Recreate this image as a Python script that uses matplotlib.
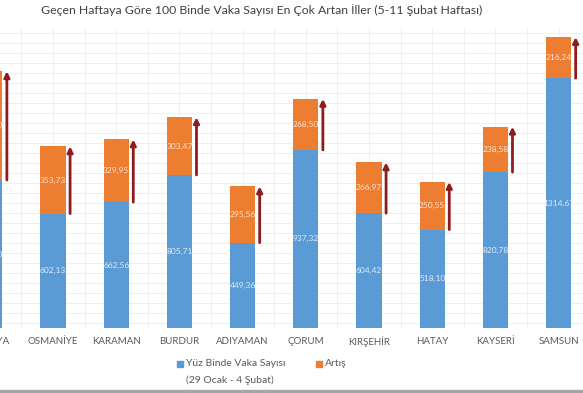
import matplotlib.pyplot as plt
from matplotlib.patches import Rectangle
import matplotlib.transforms as mtransforms
import numpy as np

plt.rcParams['font.family'] = ['Lato', 'DejaVu Sans']

# data
iller = ["AMASYA", "OSMANİYE", "KARAMAN", "BURDUR", "ADIYAMAN",
         "ÇORUM", "KIRŞEHİR", "HATAY", "KAYSERİ", "SAMSUN"]
vaka = [779.0, 602.13, 662.56, 805.71, 449.36, 937.32, 604.42, 518.10, 820.78, 1314.67]
artis = [572.0, 353.73, 329.95, 303.47, 295.56, 268.50, 266.97, 250.55, 238.58, 216.24]

blue = "#5B9BD5"
orange = "#ED7D31"
arrow_c = "#8E1B1F"

W, H = 583, 393
fig = plt.figure(figsize=(W / 100, H / 100), dpi=100)
ax = fig.add_axes([0, 65 / H, 1, 300 / H])

x = np.arange(len(iller))
ax.bar(x, vaka, width=0.4, color=blue, zorder=2)
ax.bar(x, artis, width=0.4, bottom=vaka, color=orange, zorder=2)

def fmt(v):
    return f"{v:.2f}".replace(".", ",")

for i in range(len(iller)):
    top = vaka[i] + artis[i]
    ax.text(i, vaka[i] / 2, fmt(vaka[i]), ha="center", va="center",
            fontsize=6, color="white", alpha=0.8, zorder=3)
    ax.text(i, vaka[i] + artis[i] / 2, fmt(artis[i]), ha="center", va="center",
            fontsize=6, color="white", alpha=0.8, zorder=3)
    ax.annotate("", xy=(i + 0.27, top), xytext=(i + 0.27, vaka[i]),
                arrowprops=dict(arrowstyle="-|>", color=arrow_c, lw=2,
                                mutation_scale=8, shrinkA=0, shrinkB=0),
                zorder=4)

# faint sheet grid behind the chart
ax.set_xticks(np.arange(0, 10, 0.5), minor=True)
ax.set_yticks(np.arange(26.3, 1579, 52.63), minor=True)
ax.grid(True, which="minor", color="#ececec", lw=0.6, zorder=0)
ax.set_axisbelow(True)
ax.set_xticks([])
ax.set_yticks([])
ax.tick_params(which="both", length=0)

# the screenshot is cropped on the left, so the first bar is only partly visible
ax.set_xlim(0.161, 9.386)
ax.set_ylim(0, 1579)

# category labels (drawn as text so the cropped first one still shows)
trans = mtransforms.blended_transform_factory(ax.transData, ax.transAxes)
for i, name in enumerate(iller):
    ax.text(i, -14 / 300, name, transform=trans, ha="center", va="center",
            fontsize=7, color="#595959", clip_on=False)
for s in ax.spines.values():
    s.set_visible(False)

fig.text(262 / W, 1 - 10 / H,
         "Geçen Haftaya Göre 100 Binde Vaka Sayısı En Çok Artan İller (5-11 Şubat Haftası)",
         ha="center", va="center", fontsize=8.8, color="#404040")

# legend
fig.patches.append(Rectangle((177 / W, 1 - 367 / H), 6 / W, 6 / H,
                             transform=fig.transFigure, color=blue))
fig.text(186 / W, 1 - 364 / H, "Yüz Binde Vaka Sayısı", fontsize=7.5,
         color="#595959", va="center", ha="left")
fig.text(186 / W, 1 - 380 / H, "(29 Ocak - 4 Şubat)", fontsize=7.5,
         color="#595959", va="center", ha="left")
fig.patches.append(Rectangle((316 / W, 1 - 367 / H), 6 / W, 6 / H,
                             transform=fig.transFigure, color=orange))
fig.text(325 / W, 1 - 364 / H, "Artış", fontsize=7.5,
         color="#595959", va="center", ha="left")

# bottom border strip
fig.patches.append(Rectangle((0, 0), 1, 3 / H, transform=fig.transFigure,
                             color="#a6a6a6"))

fig.savefig("out.png", dpi=100)
